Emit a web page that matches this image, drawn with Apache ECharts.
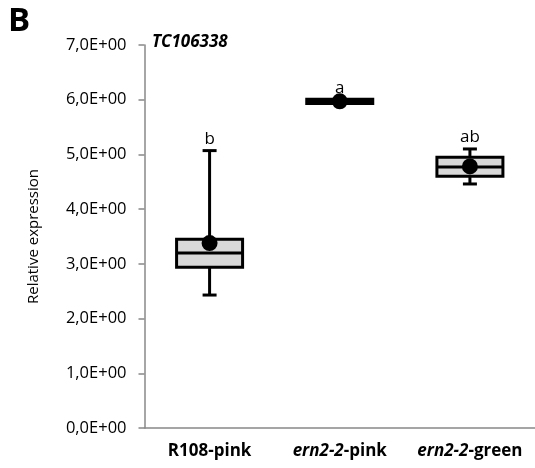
<!DOCTYPE html>
<html><head><meta charset="utf-8">
<script src="https://cdn.jsdelivr.net/npm/echarts@6/dist/echarts.min.js"></script>
<style>html,body{margin:0;padding:0;background:#fff}#c{width:535px;height:468px}</style>
</head><body><div id="c"></div>
<script>
const categories = ['R108-pink', 'ern2-2-pink', 'ern2-2-green'];
const whiskerMin = [2.43, 5.95, 4.46];
const q1 = [2.94, 5.93, 4.60];
const median = [3.20, 5.97, 4.77];
const q3 = [3.45, 6.01, 4.95];
const whiskerMax = [5.07, 5.99, 5.10];
const means = [3.38, 5.97, 4.78];
const letters = ['b', 'a', 'ab'];
const yTicks = [0, 1, 2, 3, 4, 5, 6, 7];

const chart = echarts.init(document.getElementById('c'));
const boxData = categories.map((c, i) => [i, whiskerMin[i], q1[i], median[i], q3[i], whiskerMax[i]]);
const fmt = v => v.toFixed(1).replace('.', ',') + 'E+00';
const FF = '"Open Sans", sans-serif';

chart.setOption({
  animation: false,
  grid: { left: 144.5, top: 45, width: 391, height: 383, containLabel: false },
  graphic: [
    { type: 'text', left: 8, top: 5, style: { text: 'B', font: 'bold 33px ' + FF, fill: '#000' } },
    { type: 'text', left: 152, top: 34, style: { text: 'TC106338', font: 'bold italic 17px ' + FF, fill: '#000' } }
  ],
  xAxis: {
    type: 'category', data: categories,
    axisLine: { lineStyle: { color: '#888', width: 1.5 } },
    axisTick: { show: false },
    axisLabel: {
      margin: 15, interval: 0,
      formatter: (v) => {
        if (v === 'R108-pink') return '{b|R108-pink}';
        const parts = v.split('-');
        return '{bi|ern2-2}{b|-' + parts[2] + '}';
      },
      rich: {
        b: { fontWeight: 'bold', fontSize: 17, fontFamily: FF, color: '#000' },
        bi: { fontWeight: 'bold', fontStyle: 'italic', fontSize: 17, fontFamily: FF, color: '#000' }
      }
    }
  },
  yAxis: {
    type: 'value', min: 0, max: 7, interval: 1,
    name: 'Relative expression', nameLocation: 'middle', nameGap: 103, nameRotate: 90,
    nameTextStyle: { fontSize: 15, fontFamily: FF, color: '#000' },
    axisLine: { show: true, lineStyle: { color: '#888', width: 1.5 } },
    axisTick: { show: true, length: 6, lineStyle: { color: '#888', width: 1.5 } },
    splitLine: { show: false },
    axisLabel: { formatter: v => fmt(v), margin: 18, fontSize: 16.5, fontFamily: FF, color: '#000' }
  },
  series: [
    {
      type: 'custom',
      data: boxData,
      encode: { x: 0, y: [1, 2, 3, 4, 5] },
      renderItem: (params, api) => {
        const x = api.value(0);
        const pMin = api.coord([x, api.value(1)]);
        const pQ1 = api.coord([x, api.value(2)]);
        const pMed = api.coord([x, api.value(3)]);
        const pQ3 = api.coord([x, api.value(4)]);
        const pMax = api.coord([x, api.value(5)]);
        const cx = pMed[0];
        const hw = 33, cap = 7;
        const ls = { stroke: '#000', lineWidth: 3 };
        const topY = Math.min(pMax[1], pQ3[1]);
        return {
          type: 'group',
          children: [
            { type: 'line', shape: { x1: cx, y1: pQ3[1], x2: cx, y2: pMax[1] }, style: ls },
            { type: 'line', shape: { x1: cx, y1: pQ1[1], x2: cx, y2: pMin[1] }, style: ls },
            { type: 'line', shape: { x1: cx - cap, y1: pMax[1], x2: cx + cap, y2: pMax[1] }, style: ls },
            { type: 'line', shape: { x1: cx - cap, y1: pMin[1], x2: cx + cap, y2: pMin[1] }, style: ls },
            { type: 'rect', shape: { x: cx - hw, y: pQ3[1], width: 2 * hw, height: pQ1[1] - pQ3[1] }, style: { fill: '#d9d9d9', stroke: '#000', lineWidth: 3 } },
            { type: 'line', shape: { x1: cx - hw, y1: pMed[1], x2: cx + hw, y2: pMed[1] }, style: ls },
            { type: 'text', x: cx, y: topY - 3, style: { text: letters[params.dataIndex], textAlign: 'center', textVerticalAlign: 'bottom', font: '17px ' + FF, fill: '#000' } }
          ]
        };
      },
      z: 2
    },
    {
      type: 'scatter',
      data: means.map((m, i) => [i, m]),
      symbol: 'circle', symbolSize: 16,
      itemStyle: { color: '#000', opacity: 1 },
      z: 3
    }
  ]
});
</script></body></html>
